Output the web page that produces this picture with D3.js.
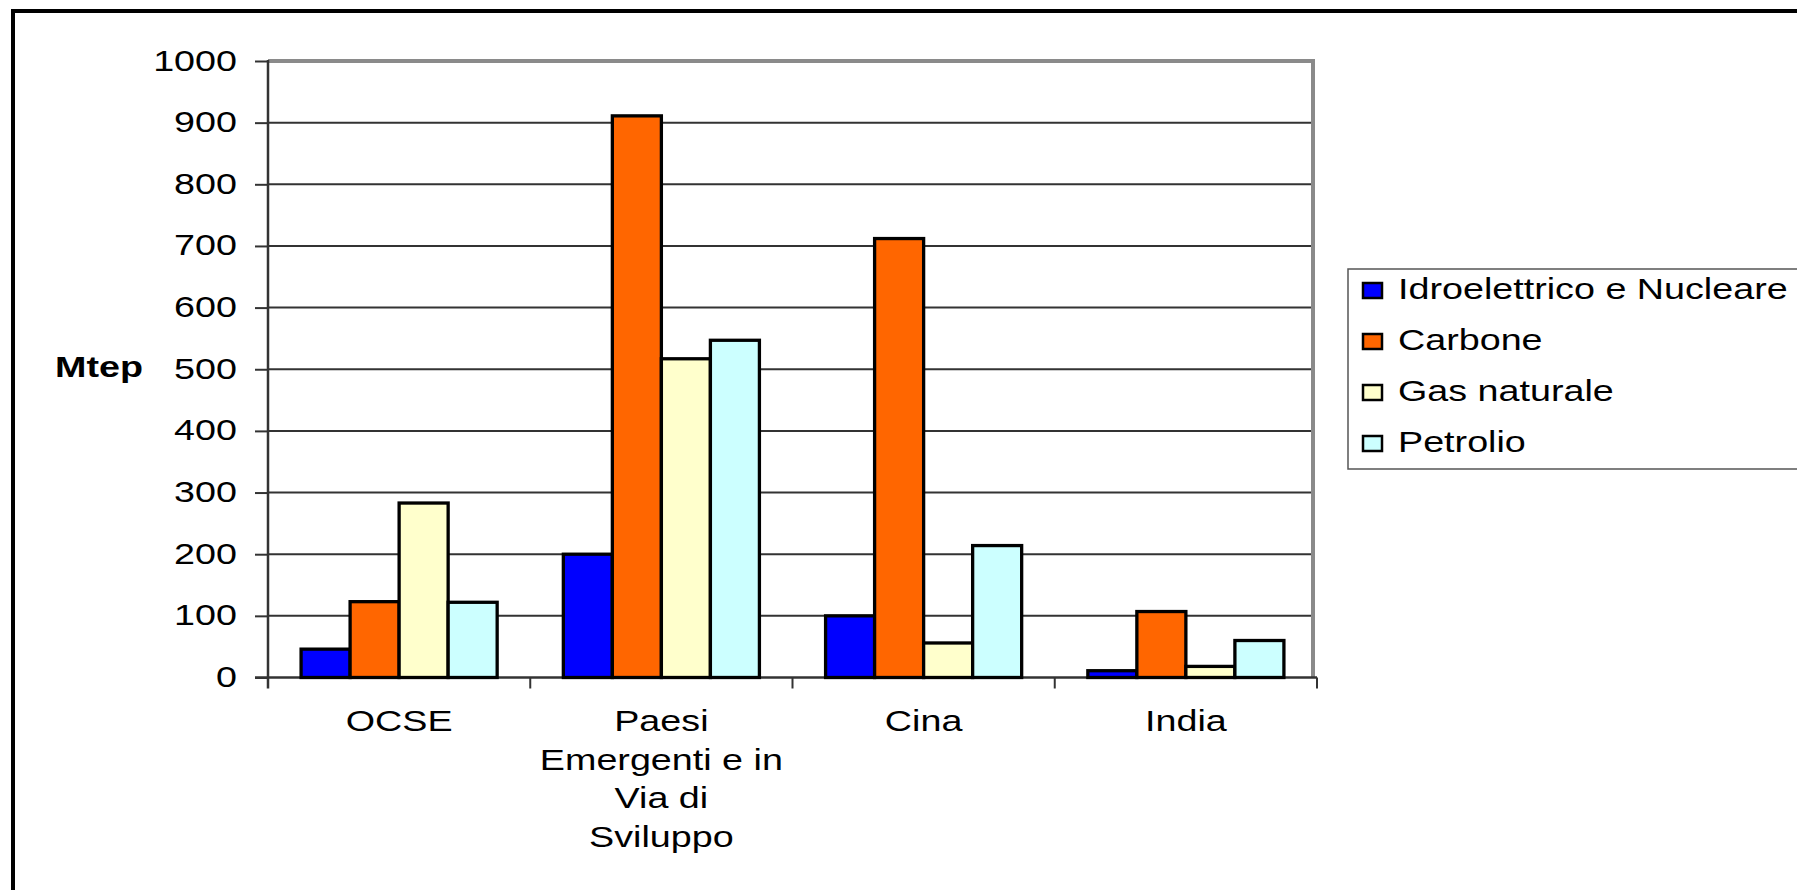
<!DOCTYPE html>
<html>
<head>
<meta charset="utf-8">
<script src="https://cdn.jsdelivr.net/npm/d3@7"></script>
<style>
  html, body { margin: 0; padding: 0; background: #ffffff; }
  svg { display: block; }
  text { font-family: "Liberation Sans", Arial, sans-serif; fill: #000; }
</style>
</head>
<body>
<svg id="chart" width="1797" height="890"></svg>
<script>
// ---- data ----
const categories = ["OCSE", "Paesi\nEmergenti e in\nVia di\nSviluppo", "Cina", "India"];
const seriesNames = ["Idroelettrico e Nucleare", "Carbone", "Gas naturale", "Petrolio"];
const idroNucleare = [46, 200, 100, 11];
const carbone = [123, 911, 712, 107];
const gasNaturale = [283, 517, 56, 18];
const petrolio = [122, 547, 214, 60];
const yTicks = [0, 100, 200, 300, 400, 500, 600, 700, 800, 900, 1000];
const yLabel = "Mtep";
const colors = ["#0000FF", "#FF6600", "#FFFFCC", "#CCFFFF"];

const seriesValues = [idroNucleare, carbone, gasNaturale, petrolio];

// ---- layout ----
const svg = d3.select("#chart");
const W = 1797, H = 890;
const plot = { left: 268, right: 1313, top: 61, bottom: 677.5 };
const SX = 1.3;          // horizontal stretch of the lettering
const FS = 29;

const y = d3.scaleLinear().domain([0, 1000]).range([plot.bottom, plot.top]);
const x0 = d3.scaleBand().domain(categories).range([plot.left, 1317]).padding(0);
const x1 = d3.scaleBand().domain(seriesNames).range([0, x0.bandwidth()])
  .paddingInner(0).paddingOuter(0.675);

// outer frame (only top and left visible)
svg.append("line").attr("x1", 13).attr("y1", 11).attr("x2", 13).attr("y2", H)
  .attr("stroke", "#000").attr("stroke-width", 4);
svg.append("line").attr("x1", 11).attr("y1", 11).attr("x2", W).attr("y2", 11)
  .attr("stroke", "#000").attr("stroke-width", 4);

// gridlines
svg.append("g").selectAll("line").data(yTicks.filter(d => d > 0 && d < 1000)).join("line")
  .attr("x1", plot.left).attr("x2", plot.right)
  .attr("y1", d => y(d)).attr("y2", d => y(d))
  .attr("stroke", "#333").attr("stroke-width", 2);

// plot top & right border (gray)
svg.append("path")
  .attr("d", `M${plot.left},${y(1000)} H${plot.right} V${plot.bottom}`)
  .attr("fill", "none").attr("stroke", "#8a8a8a").attr("stroke-width", 4);

// y axis
const yAxis = svg.append("g").attr("transform", `translate(${plot.left},0)`)
  .call(d3.axisLeft(y).tickValues(yTicks).tickSize(13).tickFormat(d3.format("d")));
yAxis.select(".domain").remove();
yAxis.selectAll(".tick line").attr("stroke", "#333").attr("stroke-width", 2);
yAxis.selectAll(".tick text")
  .attr("x", null).attr("dy", null)
  .attr("transform", `translate(-31,9) scale(${SX},1)`)
  .style("font-size", FS + "px").style("font-family", '"Liberation Sans", Arial, sans-serif')
  .attr("fill", "#000").attr("text-anchor", "end");
svg.append("line").attr("x1", plot.left).attr("x2", plot.left)
  .attr("y1", plot.top - 1).attr("y2", plot.bottom + 11)
  .attr("stroke", "#333").attr("stroke-width", 2.5);

// x axis line and boundary ticks
svg.append("line").attr("x1", plot.left - 13).attr("x2", 1317)
  .attr("y1", plot.bottom).attr("y2", plot.bottom)
  .attr("stroke", "#333").attr("stroke-width", 2.5);
const boundaries = categories.map(c => x0(c)).concat([x0.range()[1]]);
svg.append("g").selectAll("line").data(boundaries.slice(1)).join("line")
  .attr("x1", d => d).attr("x2", d => d)
  .attr("y1", plot.bottom).attr("y2", plot.bottom + 11)
  .attr("stroke", "#333").attr("stroke-width", 2);

// bars
const groups = svg.append("g").selectAll("g").data(categories).join("g")
  .attr("transform", c => `translate(${x0(c)},0)`);
groups.selectAll("rect")
  .data((c, ci) => seriesNames.map((s, si) => ({ s, si, v: seriesValues[si][ci] })))
  .join("rect")
  .attr("x", d => x1(d.s))
  .attr("width", x1.bandwidth())
  .attr("y", d => y(d.v))
  .attr("height", d => y(0) - y(d.v))
  .attr("fill", d => colors[d.si])
  .attr("stroke", "#000")
  .attr("stroke-width", 3.3);

// category labels
const lineGap = 38.5;
categories.forEach(c => {
  const lines = c.split("\n");
  const cx = x0(c) + x0.bandwidth() / 2;
  lines.forEach((ln, i) => {
    svg.append("text")
      .attr("transform", `translate(${cx},${731 + i * lineGap}) scale(${SX},1)`)
      .attr("text-anchor", "middle")
      .style("font-size", FS + "px")
      .text(ln);
  });
});

// y label
svg.append("text")
  .attr("transform", `translate(55,377) scale(${SX},1)`)
  .style("font-size", FS + "px").style("font-weight", "bold")
  .text(yLabel);

// legend
const lg = svg.append("g");
lg.append("rect").attr("x", 1348).attr("y", 269).attr("width", 520).attr("height", 200)
  .attr("fill", "#fff").attr("stroke", "#555").attr("stroke-width", 1.5);
seriesNames.forEach((s, i) => {
  const base = 299 + i * 51;
  lg.append("rect").attr("x", 1363).attr("y", base - 16).attr("width", 19).attr("height", 15)
    .attr("fill", colors[i]).attr("stroke", "#000").attr("stroke-width", 2.5);
  lg.append("text")
    .attr("transform", `translate(1398,${base}) scale(${SX},1)`)
    .style("font-size", FS + "px")
    .text(s);
});
</script>
</body>
</html>
